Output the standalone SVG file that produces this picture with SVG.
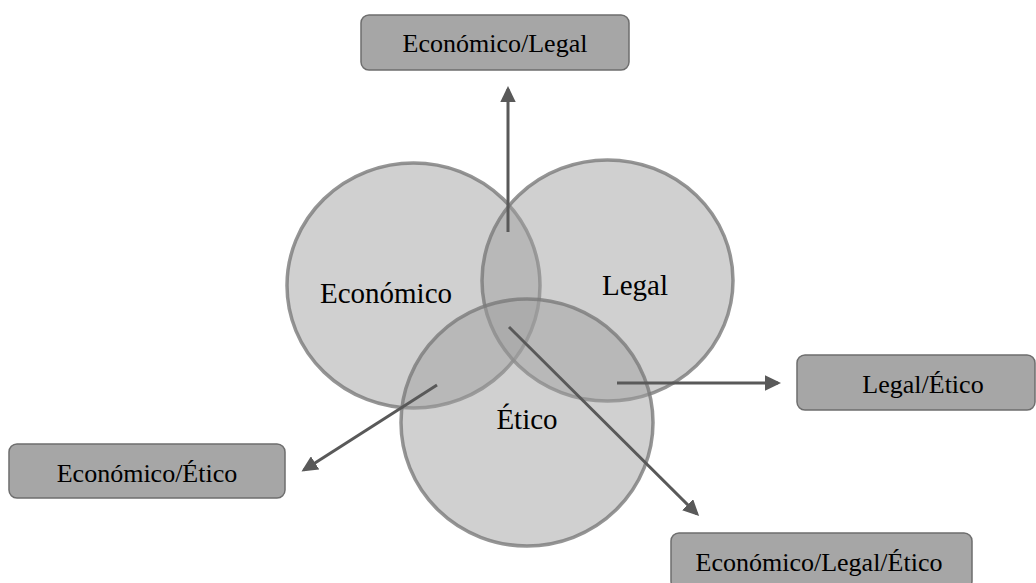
<svg xmlns="http://www.w3.org/2000/svg" width="1036" height="583" viewBox="0 0 1036 583">
<style>
.c{fill:#a0a0a0;fill-opacity:0.49;stroke:#7a7a7a;stroke-opacity:0.8;stroke-width:3.5}
.b{fill:#a6a6a6;stroke:#6e6e6e;stroke-width:1.5}
.t{font-family:"Liberation Serif",serif;fill:#000}
.bt{font-size:26px;text-anchor:middle}
.ct{font-size:29px;text-anchor:middle}
.a{stroke:#595959;stroke-width:3;fill:none;marker-end:url(#ah)}
</style>
<defs>
<marker id="ah" markerWidth="5.4" markerHeight="5.2" refX="4.4" refY="2.6" orient="auto" markerUnits="strokeWidth">
<path d="M0,0 L5.4,2.6 L0,5.2 Z" fill="#595959"/>
</marker>
</defs>
<rect width="1036" height="583" fill="#fff"/>
<g id="economico"><ellipse class="c" cx="413.5" cy="285.5" rx="126.5" ry="122.5"/></g>
<g id="legal"><ellipse class="c" cx="607.5" cy="280.5" rx="125.5" ry="120.5"/></g>
<g id="etico"><ellipse class="c" cx="527" cy="422.5" rx="126" ry="123.5"/></g>
<g id="labels">
<text class="t ct" x="386" y="303">Económico</text>
<text class="t ct" x="635" y="295">Legal</text>
<text class="t ct" x="527" y="429">Ético</text>
</g>
<g id="connectors">
<line class="a" x1="508" y1="232" x2="508" y2="89"/>
<line class="a" x1="437" y1="385" x2="304" y2="470"/>
<line class="a" x1="617" y1="383" x2="778" y2="383"/>
<line class="a" x1="509" y1="327" x2="697" y2="514"/>
</g>
<g id="box-econ-legal"><rect class="b" x="361" y="15" width="268" height="55" rx="8"/><text class="t bt" x="495" y="52">Económico/Legal</text></g>
<g id="box-econ-etico"><rect class="b" x="9" y="444" width="276" height="54" rx="8"/><text class="t bt" x="147" y="482">Económico/Ético</text></g>
<g id="box-legal-etico"><rect class="b" x="797" y="355" width="238" height="55" rx="8"/><text class="t bt" x="923" y="393">Legal/Ético</text></g>
<g id="box-all"><rect class="b" x="671" y="533" width="301" height="56" rx="8"/><text class="t bt" x="819" y="571">Económico/Legal/Ético</text></g>
</svg>
